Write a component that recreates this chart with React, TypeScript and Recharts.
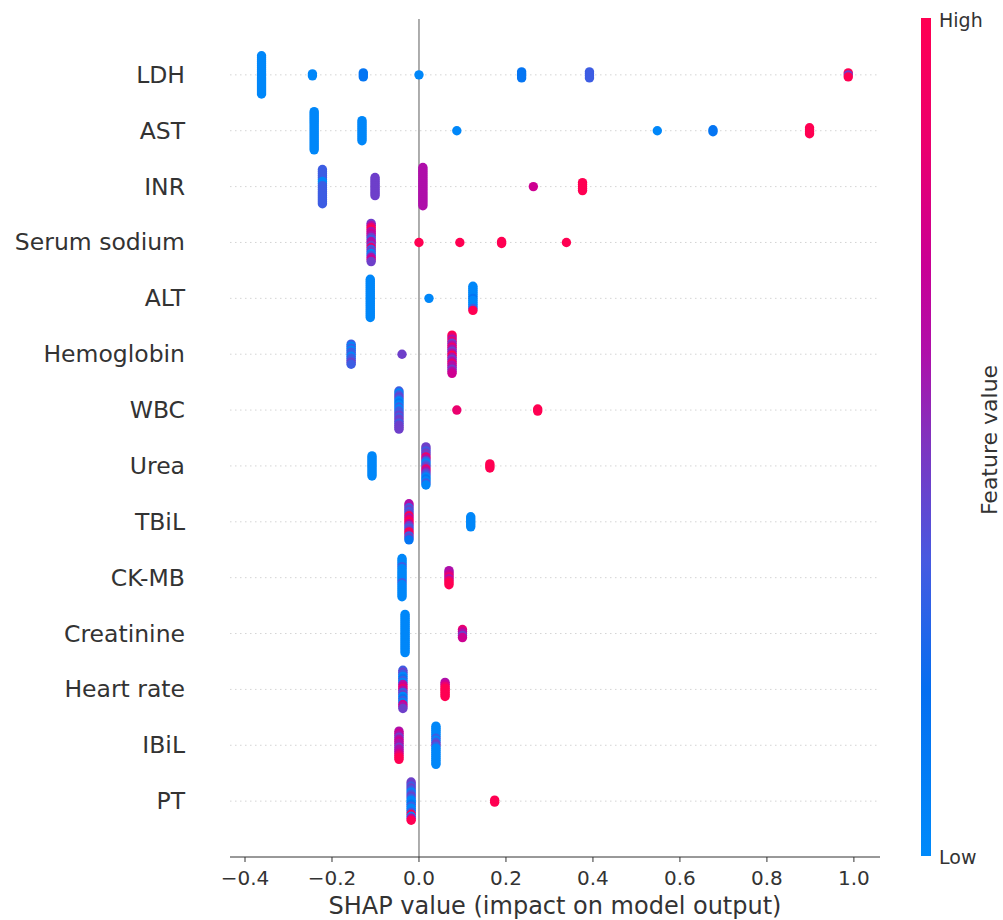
import React from 'react'
import { ScatterChart, Scatter, XAxis, YAxis, ReferenceLine } from 'recharts'

// features from top (most important) to bottom
const FEATURES = [
  'LDH', 'AST', 'INR', 'Serum sodium', 'ALT', 'Hemoglobin', 'WBC',
  'Urea', 'TBiL', 'CK-MB', 'Creatinine', 'Heart rate', 'IBiL', 'PT',
]

// each cluster: [shap value, feature-value code per point (top to bottom)]
// codes: b low .. R high
const LDH: [number, string][] = [
  [-0.362, 'bbbbbbbbbbbbbbbbbbbb'],
  [-0.245, 'bb'],
  [-0.128, 'ccc'],
  [0.0, 'b'],
  [0.236, 'cccc'],
  [0.392, 'pppp'],
  [0.987, 'RvR'],
]
const AST: [number, string][] = [
  [-0.241, 'bbbbbbbbbbbbbbbbbbbb'],
  [-0.131, 'bbbbbbbbbbb'],
  [0.087, 'b'],
  [0.548, 'b'],
  [0.676, 'cc'],
  [0.898, 'RRRR'],
]
const INR: [number, string][] = [
  [-0.222, 'ppppppbbpppppppppp'],
  [-0.101, 'vvvvvvvvvv'],
  [0.009, 'mmmmmmmmmmmmmmmmmmmm'],
  [0.263, 'n'],
  [0.376, 'RRRRR'],
]
const SERUM_SODIUM: [number, string][] = [
  [-0.11, 'vmrRmnmvpmmvrpvbpmnv'],
  [0.0, 'R'],
  [0.094, 'R'],
  [0.19, 'RR'],
  [0.339, 'R'],
]
const ALT: [number, string][] = [
  [-0.112, 'bbbbbbbbbbbbbbbbbbbb'],
  [0.023, 'b'],
  [0.124, 'bbbbbbcbbbbpR'],
]
const HEMOGLOBIN: [number, string][] = [
  [-0.156, 'pbpbppbppvp'],
  [-0.039, 'v'],
  [0.076, 'RrmrvmrmvmRmvmrmmvmn'],
]
const WBC: [number, string][] = [
  [-0.046, 'pbpvpbcbpbppvpvvpvvv'],
  [0.087, 'r'],
  [0.273, 'RR'],
]
const UREA: [number, string][] = [
  [-0.108, 'bbbbbbbbbbb'],
  [0.016, 'vvpvvrmpbpvrmvpbcbpb'],
  [0.163, 'RRR'],
]
const TBIL: [number, string][] = [
  [-0.023, 'mmpvpvRmrRnvpvRrpvc'],
  [0.119, 'bbbbbb'],
]
const CK_MB: [number, string][] = [
  [-0.039, 'bbbbpbbbbbbbpbbbbbbb'],
  [0.069, 'mmnrmrRR'],
]
const CREATININE: [number, string][] = [
  [-0.032, 'bbbbbbbbbbbbbbbbbbbb'],
  [0.1, 'rnmvn'],
]
const HEART_RATE: [number, string][] = [
  [-0.037, 'pvpbcpbmnrmpvbcpbnmv'],
  [0.06, 'mnrRRRRR'],
]
const IBIL: [number, string][] = [
  [-0.046, 'mnmvmnmmvmmnrRR'],
  [0.039, 'bbbbbbpbpvpbbbbbbbbb'],
]
const PT: [number, string][] = [
  [-0.018, 'vvpvpbpvpbbcpbbpRbmR'],
  [0.174, 'RR'],
]

const ROWS = [
  LDH, AST, INR, SERUM_SODIUM, ALT, HEMOGLOBIN, WBC,
  UREA, TBIL, CK_MB, CREATININE, HEART_RATE, IBIL, PT,
]

const X_TICKS = [-0.4, -0.2, 0.0, 0.2, 0.4, 0.6, 0.8, 1.0]

const LEVEL: Record<string, number> = {
  b: 0.02, c: 0.15, p: 0.33, v: 0.45, m: 0.6, n: 0.72, r: 0.85, R: 1.0,
}

const STOPS: [number, number[]][] = [
  [0.0, [0, 138, 250]],
  [0.2, [5, 110, 240]],
  [0.35, [70, 90, 225]],
  [0.5, [130, 50, 190]],
  [0.6, [175, 15, 170]],
  [0.7, [200, 0, 150]],
  [0.85, [235, 0, 110]],
  [1.0, [255, 0, 82]],
]

function colorAt(t: number) {
  for (let i = 1; i < STOPS.length; i++) {
    const [t1, c1] = STOPS[i]
    const [t0, c0] = STOPS[i - 1]
    if (t <= t1) {
      const k = (t - t0) / (t1 - t0)
      const c = c0.map((v, j) => Math.round(v + (c1[j] - v) * k))
      return `rgb(${c[0]},${c[1]},${c[2]})`
    }
  }
  return 'rgb(255,0,82)'
}

// vertical stacking of a bin, like shap's beeswarm
const STEP = 0.036
const N = FEATURES.length

const points = ROWS.flatMap((row, f) =>
  row.flatMap(([x, codes]) =>
    codes.split('').map((ch, k) => ({
      x,
      y: N - 1 - f + ((codes.length - 1) / 2 - k) * STEP,
      fill: colorAt(LEVEL[ch]),
    })),
  ),
)

const FONT = '"DejaVu Sans", sans-serif'

function FeatureTick({ x, y, payload }: any) {
  return (
    <text x={x - 43} y={y} textAnchor="end" dominantBaseline="central" fontSize={23.5} fill="#333" fontFamily={FONT}>
      {FEATURES[N - 1 - payload.value]}
    </text>
  )
}

function ValueTick({ x, y, payload }: any) {
  const v = Number(payload.value)
  const s = (v < 0 ? '\u2212' : '') + Math.abs(v).toFixed(1)
  return (
    <text x={x} y={y + 14} textAnchor="middle" dominantBaseline="central" fontSize={20} fill="#333" fontFamily={FONT}>
      {s}
    </text>
  )
}

export default function App() {
  return (
    <div style={{ position: 'absolute', left: 0, top: 0, width: 1003, height: 920, background: '#fff' }}>
      <ScatterChart width={1003} height={920} margin={{ top: 19, right: 123, bottom: 0, left: 0 }}>
        <XAxis
          type="number"
          dataKey="x"
          domain={[-0.4345, 1.06]}
          ticks={X_TICKS}
          allowDataOverflow
          height={63}
          stroke="#333"
          tickSize={5}
          tick={<ValueTick />}
        />
        <YAxis
          type="number"
          dataKey="y"
          domain={[-1, N]}
          ticks={FEATURES.map((_, i) => i)}
          width={230}
          axisLine={false}
          tickLine={false}
          tickSize={0}
          tick={<FeatureTick />}
        />
        {FEATURES.map((_, i) => (
          <ReferenceLine key={i} y={i} stroke="#d4d4d4" strokeWidth={1} strokeDasharray="1.5 3.5" />
        ))}
        <ReferenceLine x={0} stroke="#999999" strokeWidth={1.6} />
        <Scatter
          data={points}
          isAnimationActive={false}
          shape={(p: any) => <circle cx={p.cx} cy={p.cy} r={4.7} fill={p.payload.fill} />}
        />
      </ScatterChart>
      <svg width={1003} height={920} style={{ position: 'absolute', left: 0, top: 0, pointerEvents: 'none' }}>
        <defs>
          <linearGradient id="fvbar" x1="0" y1="1" x2="0" y2="0">
            {STOPS.map(([t, c]) => (
              <stop key={t} offset={t} stopColor={`rgb(${c[0]},${c[1]},${c[2]})`} />
            ))}
          </linearGradient>
        </defs>
        <rect x={921} y={18} width={10} height={838} fill="url(#fvbar)" />
        <text x={939} y={20} dominantBaseline="central" fontSize={19} fill="#333" fontFamily={FONT}>High</text>
        <text x={939} y={857} dominantBaseline="central" fontSize={19} fill="#333" fontFamily={FONT}>Low</text>
        <text
          x={989}
          y={440}
          transform="rotate(-90 989 440)"
          textAnchor="middle"
          dominantBaseline="central"
          fontSize={22}
          fill="#333"
          fontFamily={FONT}
        >
          Feature value
        </text>
        <text x={555} y={906} textAnchor="middle" dominantBaseline="central" fontSize={24} fill="#333" fontFamily={FONT}>
          SHAP value (impact on model output)
        </text>
      </svg>
    </div>
  )
}
